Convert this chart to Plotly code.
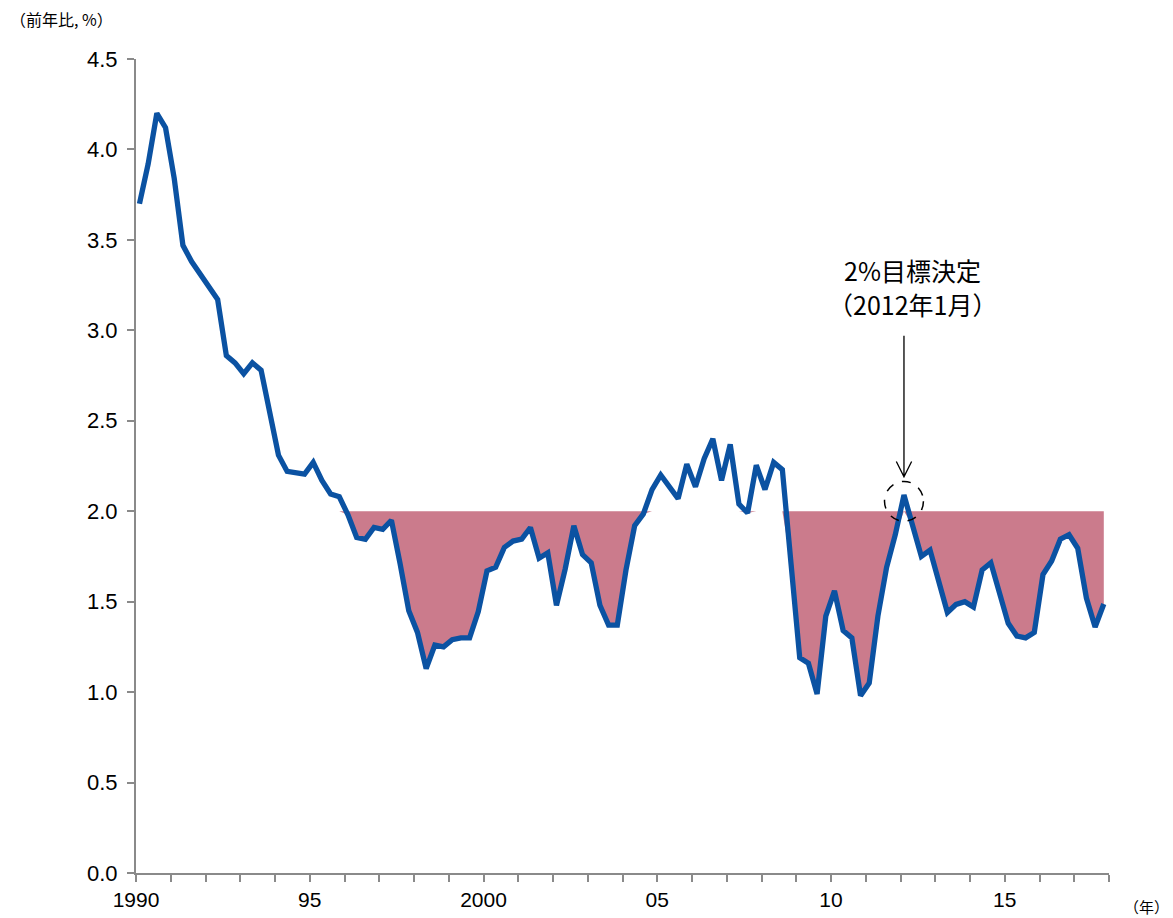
import plotly.graph_objects as go

# Quarterly year-on-year rate (%), 1990 Q1 - 2017 Q4
start_year = 1990
end_year = 2018
cpi_yoy = [
    3.70, 3.92, 4.20, 4.12,   # 1990
    3.84, 3.47, 3.38, 3.31,   # 1991
    3.23, 3.17, 2.86, 2.82,   # 1992
    2.76, 2.82, 2.78, 2.55,   # 1993
    2.31, 2.22, 2.21, 2.205,  # 1994
    2.27, 2.17, 2.095, 2.08,  # 1995
    1.98, 1.855, 1.845, 1.91, # 1996
    1.90, 1.95, 1.71, 1.45,   # 1997
    1.33, 1.13, 1.26, 1.25,   # 1998
    1.29, 1.30, 1.30, 1.445,  # 1999
    1.67, 1.69, 1.80, 1.835,  # 2000
    1.846, 1.91, 1.74, 1.77,  # 2001
    1.48, 1.68, 1.92, 1.76,   # 2002
    1.715, 1.48, 1.37, 1.37,  # 2003
    1.675, 1.92, 1.985, 2.12, # 2004
    2.20, 2.14, 2.07, 2.26,   # 2005
    2.135, 2.29, 2.40, 2.17,  # 2006
    2.37, 2.04, 1.99, 2.255,  # 2007
    2.12, 2.27, 2.23, 1.71,   # 2008
    1.19, 1.16, 0.99, 1.42,   # 2009
    1.56, 1.34, 1.30, 0.98,   # 2010
    1.05, 1.42, 1.69, 1.87,   # 2011
    2.09, 1.92, 1.75, 1.785,  # 2012
    1.61, 1.44, 1.485, 1.50,  # 2013
    1.47, 1.675, 1.715, 1.55, # 2014
    1.38, 1.31, 1.30, 1.33,   # 2015
    1.65, 1.725, 1.845, 1.87, # 2016
    1.795, 1.52, 1.36, 1.487, # 2017
]
target = 2.0
event_index = (2012 - start_year) * 4  # 2012 Q1
event_lines = ["2%目標決定", "（2012年1月）"]

tick_years = list(range(start_year, end_year + 1))
tick_labels = {1990: "1990", 1995: "95", 2000: "2000", 2005: "05", 2010: "10", 2015: "15"}

x = [start_year + i / 4 + 0.1 for i in range(len(cpi_yoy))]
below = [min(v, target) for v in cpi_yoy]

LINE_BLUE = "#0B52A2"
GAP_PINK = "#CB7B8C"
AXIS_GREY = "#8A8A8A"
LATIN = "Liberation Sans, Arial, sans-serif"
CJK = "Noto Sans CJK JP, sans-serif"

W, H = 1173, 918
ML, MR, MT, MB = 136, 64, 59, 45
PW, PH = W - ML - MR, H - MT - MB

fig = go.Figure()
# shortfall below the 2% target
fig.add_trace(go.Scatter(x=x, y=[target] * len(x), mode="lines",
                         line=dict(width=0, color="rgba(0,0,0,0)"), hoverinfo="skip",
                         showlegend=False))
fig.add_trace(go.Scatter(x=x, y=below, mode="lines", fill="tonexty",
                         fillcolor=GAP_PINK, line=dict(width=0, color="rgba(0,0,0,0)"),
                         hoverinfo="skip", showlegend=False))
# rate line
fig.add_trace(go.Scatter(x=x, y=cpi_yoy, mode="lines",
                         line=dict(color=LINE_BLUE, width=5.3), showlegend=False))

ex = x[event_index]
ey = cpi_yoy[event_index]

# dashed ring around the decision point
rx, ry = 0.56, 0.11
fig.add_shape(type="circle", xref="x", yref="y",
              x0=ex - rx, x1=ex + rx, y0=ey - 0.035 - ry, y1=ey - 0.035 + ry,
              line=dict(color="black", width=1.5, dash="dash"))

# arrow pointing at the decision point
tip_y = ey + 0.10
top_y = ey + 0.88
hx, hy = 0.22, 0.085
fig.add_shape(type="path", xref="x", yref="y",
              path=(f"M {ex},{top_y} L {ex},{tip_y} "
                    f"M {ex - hx},{tip_y + hy} L {ex},{tip_y} L {ex + hx},{tip_y + hy}"),
              line=dict(color="black", width=1.3))

# two-line event label
for k, txt in enumerate(event_lines):
    fig.add_annotation(x=ex + 0.25, y=top_y + 0.365 - 0.19 * k, xref="x", yref="y",
                       text=txt, showarrow=False,
                       font=dict(family=CJK, size=25, color="black"),
                       xanchor="center", yanchor="middle")

# axis unit labels (pixel offsets from the plot area)
fig.add_annotation(xref="paper", yref="paper", x=-128 / PW, y=1 + 40 / PH,
                   text="（前年比, %）", showarrow=False,
                   font=dict(family=CJK, size=16, color="black"),
                   xanchor="left", yanchor="middle")
fig.add_annotation(xref="paper", yref="paper", x=1 + 62 / PW, y=-33 / PH,
                   text="（年）", showarrow=False,
                   font=dict(family=CJK, size=15, color="black"),
                   xanchor="right", yanchor="middle")

fig.update_layout(
    width=W, height=H,
    margin=dict(l=ML, r=MR, t=MT, b=MB, autoexpand=False),
    paper_bgcolor="white", plot_bgcolor="white",
    showlegend=False,
    xaxis=dict(range=[start_year, end_year], tickmode="array",
               tickvals=tick_years,
               ticktext=[tick_labels.get(y, "") for y in tick_years],
               ticks="outside", ticklen=7, tickwidth=1.5, tickcolor=AXIS_GREY,
               showline=True, linecolor=AXIS_GREY, linewidth=2,
               showgrid=False, zeroline=False, automargin=False,
               tickfont=dict(family=LATIN, size=21, color="black")),
    yaxis=dict(range=[0, 4.5], dtick=0.5, tickformat=".1f",
               ticks="outside", ticklen=7, tickwidth=1.5, tickcolor=AXIS_GREY,
               showline=True, linecolor=AXIS_GREY, linewidth=2,
               showgrid=False, zeroline=False, ticklabelstandoff=5, automargin=False,
               tickfont=dict(family=LATIN, size=22, color="black")),
)

fig.write_html("out.html")
